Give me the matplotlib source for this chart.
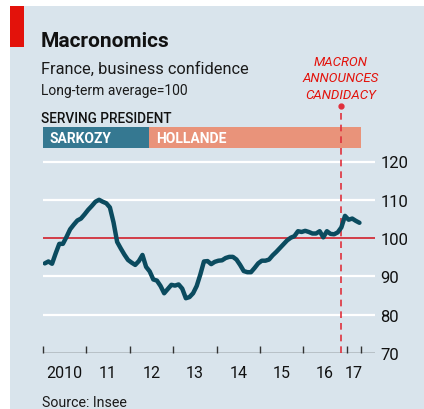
import numpy as np
import matplotlib
matplotlib.use("Agg")
from matplotlib import pyplot as plt
from matplotlib.patches import Rectangle

# business confidence, monthly Jan 2010 - Apr 2017 (long-term average = 100)
confidence = [
    93.4, 93.9, 93.3, 96.0, 98.5, 98.5, 100.3, 102.3, 103.5, 104.6, 105.1, 106.2,
    107.4, 108.4, 109.5, 110.0, 109.5, 109.1, 108.0, 104.1, 99.0, 97.3, 95.7, 94.3,
    93.6, 93.0, 94.0, 95.6, 92.5, 91.3, 89.2, 88.9, 87.5, 85.6, 86.7, 87.8,
    87.6, 87.9, 86.8, 84.3, 84.6, 85.6, 87.5, 90.5, 93.9, 94.0, 93.2, 93.8,
    94.1, 94.2, 94.8, 95.1, 95.1, 94.4, 93.0, 91.4, 91.1, 91.1, 92.2, 93.4,
    94.1, 94.1, 94.4, 95.5, 96.4, 97.4, 98.4, 99.4, 100.1, 100.5, 101.8, 101.6,
    101.9, 101.6, 101.2, 101.2, 101.8, 100.2, 101.8, 101.1, 101.0, 101.5, 102.8, 105.8,
    104.8, 105.1, 104.5, 104.0,
]
presidents = ["SARKOZY", "HOLLANDE"]
term_start = [2010.0, 2012.45]
term_end = [2012.45, 2017.33]
macron_date = 2016.86
year_ticks = [2010, 2011, 2012, 2013, 2014, 2015, 2016, 2017, 2017.33]
year_labels = ["2010", "11", "12", "13", "14", "15", "16", "17"]
y_ticks = [70, 80, 90, 100, 110, 120]

BG = "#d9e4ec"
LINE = "#0b4b5f"
RED = "#e3120b"
W, H = 424, 410

plt.rcParams["font.family"] = ["Roboto", "DejaVu Sans"]

fig = plt.figure(figsize=(W / 100, H / 100), dpi=100)
fig.patch.set_facecolor("white")
fig.patches.append(Rectangle((10 / W, 0), 1 - 10 / W, 1 - 7 / H, transform=fig.transFigure,
                             facecolor=BG, edgecolor="none", zorder=-10))
fig.patches.append(Rectangle((10 / W, 1 - 48 / H), 14 / W, 41 / H, transform=fig.transFigure,
                             facecolor=RED, edgecolor="none", zorder=-5))


def px(x, y):
    return x / W, 1 - y / H


fig.text(*px(41, 47), "Macronomics", fontsize=15, fontweight="bold", color="#111111")
fig.text(*px(41, 74), "France, business confidence", fontsize=11.8, color="#1a1a1a")
fig.text(*px(41, 95), "Long-term average=100", fontsize=10, color="#1a1a1a")
fig.text(*px(41, 123), "SERVING PRESIDENT", fontsize=9.8, fontweight="medium", color="#111111")
fig.text(*px(42, 407), "Source: Insee", fontsize=10.2, color="#1a1a1a")
for i, line in enumerate(["MACRON", "ANNOUNCES", "CANDIDACY"]):
    fig.text(*px(341, 66 + i * 16.5), line, fontsize=9.5, style="italic", color=RED, ha="center")

ax = fig.add_axes([43 / W, (H - 354) / H, (375 - 43) / W, (354 - 104) / H])
ax.set_facecolor("none")
ax.set_xlim(2010, 2010 + (375 - 43) / 43.4)
ax.set_ylim(70, 70 + 250 / 3.83)
for s in ax.spines.values():
    s.set_visible(False)

for v in [80, 90, 110, 120]:
    ax.axhline(v, color="white", lw=1.6, zorder=1)
ax.axhline(100, color="#d23c47", lw=1.4, zorder=2)
ax.axhline(70, color="#333333", lw=1.0, zorder=2)

dates = 2010 + np.arange(len(confidence)) / 12 + 1 / 24
ax.plot(dates, confidence, color=LINE, lw=3.2, solid_joinstyle="round",
        solid_capstyle="round", zorder=4)

ax.plot([macron_date, macron_date], [70, 134.5], color="#e0303c", lw=1.2,
        dashes=(4, 3), zorder=3)
ax.plot([macron_date], [134.5], "o", color="#e0303c", ms=3.5, zorder=3)

bar_colors = ["#357891", "#e9937a"]
for name, a, b, c in zip(presidents, term_start, term_end, bar_colors):
    ax.barh(126.25, b - a, left=a, height=5.5, color=c, edgecolor="none", zorder=2)
    ax.text(a + 7 / 43.4, 126.1, name, color="white", fontsize=10, fontweight="bold",
            va="center", ha="left", zorder=5)

ax.set_xticks(year_ticks)
ax.set_xticklabels([])
ax.tick_params(axis="x", which="major", direction="in", length=5, width=1, color="#333333")
mids = [(year_ticks[i] + year_ticks[i + 1]) / 2 for i in range(len(year_labels))]
ax.set_xticks(mids, minor=True)
ax.set_xticklabels(year_labels, minor=True, fontsize=11.5, color="#111111")
ax.tick_params(axis="x", which="minor", length=0, pad=9)

ax.yaxis.tick_right()
ax.set_yticks(y_ticks)
ax.set_yticklabels([str(v) for v in y_ticks], fontsize=12, color="#111111")
ax.tick_params(axis="y", length=0, pad=4)

fig.savefig("out.png", dpi=100)
